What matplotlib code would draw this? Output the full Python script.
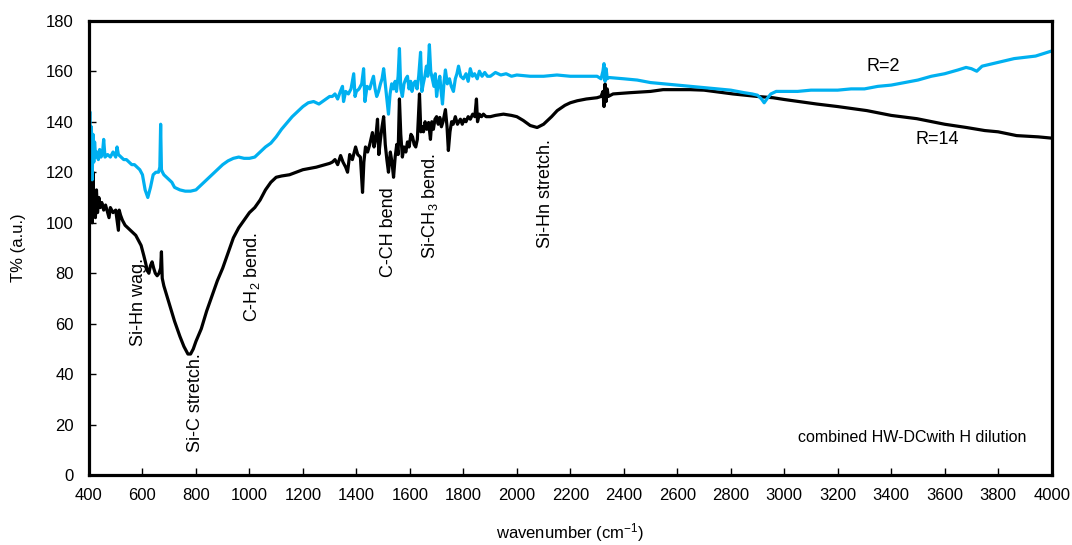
import numpy as np
import matplotlib
matplotlib.use("Agg")
import matplotlib.pyplot as plt

plt.rcParams["font.family"] = ["Liberation Sans", "DejaVu Sans"]
plt.rcParams["mathtext.fontset"] = "custom"
plt.rcParams["mathtext.rm"] = "Liberation Sans"
plt.rcParams["mathtext.it"] = "Liberation Sans:italic"
plt.rcParams["mathtext.default"] = "regular"

# ---- data (wavenumber in cm-1, T% a.u.) ----
r2_x = [400, 403, 406, 409, 412, 415, 418, 421, 425, 430,
        435, 440, 445, 450, 455, 460, 470, 480, 490, 500,
        505, 510, 520, 530, 540, 550, 560, 570, 580, 590,
        600, 610, 620, 630, 640, 650, 660, 665, 668, 671,
        675, 680, 690, 700, 710, 720, 740, 760, 780, 800,
        820, 840, 860, 880, 900, 920, 940, 960, 980, 1000,
        1020, 1040, 1060, 1080, 1100, 1120, 1140, 1160, 1180, 1200,
        1220, 1240, 1260, 1280, 1300, 1310, 1320, 1330, 1340, 1348,
        1352, 1360, 1370, 1380, 1390, 1395, 1400, 1410, 1420, 1427,
        1432, 1440, 1450, 1458, 1464, 1470, 1476, 1483, 1490, 1496,
        1502, 1508, 1514, 1520, 1526, 1532, 1538, 1545, 1550, 1556,
        1561, 1566, 1572, 1578, 1585, 1591, 1597, 1603, 1608, 1614,
        1620, 1627, 1633, 1640, 1645, 1650, 1656, 1662, 1667, 1673,
        1678, 1684, 1690, 1695, 1700, 1706, 1712, 1717, 1722, 1728,
        1733, 1740, 1748, 1755, 1763, 1770, 1776, 1782, 1790, 1800,
        1810, 1818, 1826, 1834, 1842, 1852, 1860, 1870, 1880, 1890,
        1901, 1920, 1940, 1960, 1980, 2000, 2050, 2100, 2150, 2200,
        2250, 2300, 2315, 2322, 2326, 2330, 2334, 2338, 2345, 2400,
        2450, 2500, 2550, 2600, 2650, 2700, 2750, 2800, 2850, 2880,
        2900, 2915, 2925, 2935, 2950, 2970, 3000, 3050, 3100, 3150,
        3200, 3250, 3300, 3350, 3400, 3450, 3500, 3550, 3600, 3650,
        3680, 3700, 3720, 3740, 3780, 3820, 3860, 3900, 3940, 3970,
        4000]
r2_y = [128, 144, 125, 138, 117, 135, 124, 132, 126, 128,
        125, 129, 126, 127, 133, 126, 127, 126, 128, 126,
        130, 127, 126, 125, 125, 124, 123, 123, 122, 121,
        119, 113, 110, 114, 119, 120, 120, 122, 139, 121,
        120, 119, 118, 117, 116, 114, 113, 112.5, 112.5, 113,
        115, 117, 119, 121, 123, 124.5, 125.5, 126, 125.5, 125.5,
        126, 128, 130, 131.5, 134, 137, 139.5, 142, 144, 146,
        147.5, 148, 147, 148.5, 150, 150, 151, 149, 152, 154,
        148, 152, 151, 153, 159, 150, 152, 153, 155, 161,
        148, 154, 153, 156, 158, 153, 150, 152, 155, 157,
        161, 155, 149, 143, 151, 155, 153, 156, 152, 158,
        169, 153, 150, 155, 157, 158, 153, 156, 152, 155,
        156, 153, 158, 167.5, 152, 155, 158, 162, 158, 170.5,
        160, 157, 154, 159, 150, 155, 158, 152, 147, 156,
        160.5, 155, 157, 154, 152, 157, 159, 162, 158, 157,
        159, 156, 161, 158, 159, 157, 160, 158, 159.5, 158,
        158, 159.5, 158.5, 159, 158, 158.5, 158, 158, 158.5, 158,
        158, 158, 157, 160, 163, 156, 161, 157, 157.5, 157,
        156.5, 155.5, 155, 154.5, 154, 153.5, 153, 152.5, 151.5, 151,
        150.5, 149, 147.5, 149, 151, 152, 152, 152, 152.5, 152.5,
        152.5, 153, 153, 154, 154.5, 155.5, 156.5, 158, 159, 160.5,
        161.5, 161, 160, 162, 163, 164, 165, 165.5, 166, 167,
        168]

r14_x = [400, 403, 406, 409, 412, 415, 418, 421, 424, 428,
         432, 437, 442, 448, 455, 462, 470, 475, 480, 490,
         500, 505, 510, 513, 518, 525, 535, 545, 555, 565,
         575, 585, 595, 605, 612, 618, 624, 630, 636, 642,
         648, 655, 662, 668, 671, 674, 680, 700, 720, 740,
         755, 770, 780, 790, 800, 820, 840, 860, 880, 900,
         920, 940, 960, 980, 1000, 1020, 1040, 1060, 1080, 1100,
         1120, 1150, 1200, 1250, 1300, 1310, 1320, 1330, 1341, 1350,
         1360, 1367, 1375, 1385, 1397, 1405, 1415, 1423, 1428, 1434,
         1442, 1450, 1460, 1466, 1472, 1479, 1484, 1490, 1496, 1502,
         1508, 1514, 1520, 1527, 1533, 1539, 1545, 1551, 1556, 1561,
         1566, 1572, 1578, 1585, 1591, 1597, 1604, 1610, 1616, 1622,
         1628, 1636, 1641, 1646, 1651, 1657, 1663, 1670, 1677, 1682,
         1688, 1694, 1700, 1706, 1712, 1718, 1724, 1733, 1739, 1744,
         1750, 1756, 1762, 1770, 1778, 1789, 1796, 1803, 1810, 1818,
         1826, 1835, 1843, 1849, 1853, 1860, 1868, 1875, 1885, 1901,
         1920, 1950, 1980, 2000, 2024, 2050, 2076, 2100, 2130, 2151,
         2180, 2200, 2226, 2260, 2300, 2315, 2322, 2326, 2330, 2334,
         2338, 2342, 2360, 2424, 2500, 2547, 2648, 2700, 2808, 2900,
         2958, 3000, 3122, 3200, 3309, 3400, 3496, 3600, 3682, 3750,
         3800, 3869, 3950, 4000]
r14_y = [108, 118, 103, 112, 100, 120, 104, 110, 102, 113,
         104, 110, 106, 108, 105, 107, 104, 102, 106, 104,
         105, 101, 97, 105, 103, 101, 99, 98, 97, 96,
         95, 93, 91, 87, 84, 81, 80, 83, 84.5, 82,
         80, 79, 80, 82, 88.5, 78, 75, 68, 61, 55,
         51, 48, 48, 50, 53, 58, 65, 71, 77, 82,
         88, 94, 98, 101, 104, 106, 109, 113, 116, 118,
         118.5, 119, 121, 122, 123.5, 124, 125, 123, 126.6, 124,
         122, 120, 127, 125, 130, 127, 126, 112, 124, 130,
         128, 131, 135.7, 130, 133, 141, 127, 133, 138, 142,
         131, 125, 120, 128, 124, 118, 126, 131, 127, 149,
         135, 126, 130, 128, 132, 130, 135, 134, 131, 130,
         133, 151, 136, 138, 136, 140, 137, 139.7, 133, 140,
         137, 141, 142, 139, 141.7, 138, 140, 144.8, 138, 128.6,
         136, 140, 139, 142, 139, 141, 139, 141, 140, 142,
         141, 143, 142, 149, 140, 143, 142, 143, 142, 142,
         142.5, 143, 142.5, 142, 140.5, 138.5, 137.7, 139, 142, 144.4,
         146.5, 147.5, 148.3, 149, 149.5, 150, 152, 146, 155, 148,
         153, 150, 151, 151.5, 152, 152.7, 152.7, 152.5, 151, 150,
         149.5, 148.8, 147, 146, 144.4, 142.5, 141.2, 139, 137.7, 136.5,
         136, 134.5, 134, 133.5]

# band assignments: (label, wavenumber, top of text in T%)
band_labels = ["Si-Hn wag.", "Si-C stretch.", "C-H$_2$ bend.", "C-CH bend",
               "Si-CH$_3$ bend.", "Si-Hn stretch."]
band_x = [587, 797, 1009, 1520, 1677, 2107]
band_top = [86, 48.5, 96.5, 114, 127.5, 133]

fig = plt.figure(figsize=(10.72, 5.45), dpi=100)
ax = fig.add_axes([0.083, 0.128, 0.898, 0.834])

ax.plot(r14_x, r14_y, color="black", lw=2.3, solid_joinstyle="round")
ax.plot(r2_x, r2_y, color="#00B0F0", lw=2.3, solid_joinstyle="round")

for lab, bx, bt in zip(band_labels, band_x, band_top):
    ax.text(bx, bt, lab, rotation=90, ha="center", va="top", fontsize=13)

ax.text(3369, 162, "R=2", ha="center", va="center", fontsize=13)
ax.text(3574, 133, "R=14", ha="center", va="center", fontsize=13)
ax.text(3477, 15, "combined HW-DCwith H dilution", ha="center", va="center",
        fontsize=11.5)

ax.set_xlim(400, 4000)
ax.set_ylim(0, 180)
ax.set_xticks(np.arange(400, 4001, 200))
ax.set_yticks(np.arange(0, 181, 20))
ax.tick_params(direction="in", length=5, width=1, labelsize=12)
ax.tick_params(axis="x", pad=9)
ax.tick_params(axis="y", pad=11)
for s in ax.spines.values():
    s.set_linewidth(2.3)

ax.set_xlabel("wavenumber (cm$^{-1}$)", fontsize=12, labelpad=13)
ax.set_ylabel("T% (a.u.)", fontsize=12, labelpad=14)

plt.savefig("out.png", dpi=100)
